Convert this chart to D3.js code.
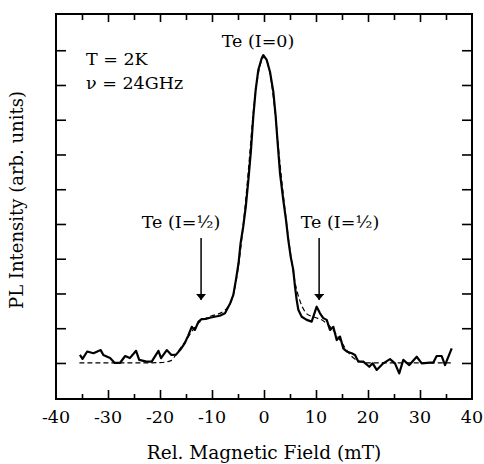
<!DOCTYPE html>
<html><head><meta charset="utf-8">
<script src="https://cdn.jsdelivr.net/npm/d3@7"></script>
<style>body{margin:0;background:#fff}svg{display:block}text{font-family:"DejaVu Serif",serif;fill:#000}</style>
</head><body><svg id="c" width="484" height="464"></svg>
<script>
// Measured PL (solid line)
const fieldMeas = [-35.4,-34.9,-34.0,-32.8,-31.4,-30.9,-29.6,-28.7,-27.7,-26.7,-25.8,-24.6,-24.0,-22.6,-21.6,-20.3,-19.8,-18.7,-17.8,-16.9,-16.0,-15.2,-14.6,-13.9,-13.3,-12.6,-12.0,-11.2,-10.4,-9.5,-8.5,-7.5,-6.5,-5.9,-5.4,-4.9,-4.5,-4.0,-3.5,-3.0,-2.5,-2.06,-1.6,-1.1,-0.44,-0.13,0.52,1.15,1.79,2.25,2.63,3.08,3.71,4.23,4.67,5.13,5.63,5.96,6.29,6.6,7.25,8.21,9.17,10.13,10.77,11.4,12.06,12.69,13.33,13.98,14.62,15.25,15.9,16.87,17.5,18.13,19.1,20.25,20.9,21.67,22.94,24.23,25.19,26.0,26.79,27.94,29.37,30.33,31.92,32.56,33.21,34.17,34.81,36.1];
const plMeas = [0.23,0.12,0.33,0.28,0.37,0.23,0.14,0.0,0.0,0.2,0.14,0.35,0.09,0.04,0.04,0.35,0.14,0.37,0.23,0.24,0.4,0.58,0.78,1.04,0.95,1.19,1.26,1.27,1.3,1.33,1.36,1.43,1.72,1.96,2.39,2.87,3.45,3.92,4.5,5.27,6.13,7.09,7.86,8.43,8.77,8.86,8.72,8.38,7.81,7.09,6.32,5.46,4.69,4.12,3.54,3.06,2.68,2.2,1.81,1.53,1.33,1.24,1.19,1.62,1.43,1.29,1.24,0.95,1.04,0.66,0.76,0.42,0.33,0.28,0.23,0.04,0.04,-0.11,-0.01,-0.2,-0.01,0.11,-0.01,-0.3,0.09,-0.06,0.18,-0.01,0.01,0.01,0.2,0.2,-0.06,0.42];
// Fit (dashed line)
const fieldFit = [-35.5,-25,-20,-18,-17,-16,-15,-14,-13,-12,-11,-10,-9,-8,-7,-6,-5,-4,-3,-2,-1,0,1,2,3,4,5,6,7,8,9,10,11,12,13,14,15,16,17,18,19,20,25,36];
const plFit = [0,0,0.01,0.06,0.22,0.44,0.65,0.88,1.08,1.22,1.3,1.36,1.4,1.47,1.6,1.9,2.7,3.95,5.55,7.3,8.4,8.8,8.45,7.4,5.85,4.45,3.25,2.3,1.75,1.45,1.35,1.3,1.25,1.14,1.0,0.8,0.57,0.35,0.17,0.07,0.02,0,0,0];
// Axis ticks
const xMajor = [-30,-20,-10,0,10,20,30];
const xMinor = [-35,-25,-15,-5,5,15,25,35];
const xLabels = [-40,-30,-20,-10,0,10,20,30,40];
const yTicks = [0,1,2,3,4,5,6,7,8,9];
// Annotations
const arrowFields = [-12.1, 10.6];
const arrowLabels = ["Te (I=½)", "Te (I=½)"];

const svg = d3.select("#c");
const L=56,R=472,T=14,B=399;
const x = d3.scaleLinear().domain([-40,40]).range([L,R]);
const y = d3.scaleLinear().domain([-1.037,10.043]).range([B,T]);

function styleAxis(g){g.select(".domain").remove();g.selectAll("line").attr("stroke","#000").attr("stroke-width",1.6);}
svg.append("g").attr("transform",`translate(0,${B})`).call(d3.axisBottom(x).tickValues(xMajor).tickSize(-9).tickFormat("")).call(styleAxis);
svg.append("g").attr("transform",`translate(0,${B})`).call(d3.axisBottom(x).tickValues(xMinor).tickSize(-5).tickFormat("")).call(styleAxis);
svg.append("g").attr("transform",`translate(0,${T})`).call(d3.axisTop(x).tickValues(xMajor).tickSize(-8).tickFormat("")).call(styleAxis);
svg.append("g").attr("transform",`translate(0,${T})`).call(d3.axisTop(x).tickValues(xMinor).tickSize(-6).tickFormat("")).call(styleAxis);
svg.append("g").attr("transform",`translate(${L},0)`).call(d3.axisLeft(y).tickValues(yTicks).tickSize(-10).tickFormat("")).call(styleAxis);
svg.append("g").attr("transform",`translate(${R},0)`).call(d3.axisRight(y).tickValues(yTicks).tickSize(-10).tickFormat("")).call(styleAxis);

svg.append("g").selectAll("text").data(xLabels).join("text")
  .attr("x",d=>x(d)).attr("y",423).attr("text-anchor","middle").attr("font-size",17.5).text(d=>d);

svg.append("rect").attr("x",L).attr("y",T).attr("width",R-L).attr("height",B-T)
  .attr("fill","none").attr("stroke","#000").attr("stroke-width",2);

const fitData = fieldFit.map((f,i)=>[f,plFit[i]]);
const measData = fieldMeas.map((f,i)=>[f,plMeas[i]]);
svg.append("path").datum(fitData).attr("fill","none").attr("stroke","#000").attr("stroke-width",1.2)
  .attr("stroke-dasharray","5,3")
  .attr("d",d3.line().x(d=>x(d[0])).y(d=>y(d[1])).curve(d3.curveMonotoneX));
svg.append("path").datum(measData).attr("fill","none").attr("stroke","#000").attr("stroke-width",2.2)
  .attr("stroke-linejoin","round")
  .attr("d",d3.line().x(d=>x(d[0])).y(d=>y(d[1])));

// arrows
svg.append("defs").append("marker").attr("id","ah").attr("viewBox","0 0 6 10").attr("refX",6).attr("refY",5)
  .attr("markerWidth",6).attr("markerHeight",10).attr("markerUnits","userSpaceOnUse").attr("orient","auto")
  .append("path").attr("d","M0,0L6,5L0,10Z").attr("fill","#000");
arrowFields.forEach((f,i)=>{
  svg.append("line").attr("x1",x(f)).attr("x2",x(f)).attr("y1",238).attr("y2",300)
    .attr("stroke","#000").attr("stroke-width",1.5).attr("marker-end","url(#ah)");
});
svg.append("text").attr("x",181).attr("y",228).attr("text-anchor","middle").attr("font-size",17.5).text(arrowLabels[0]);
svg.append("text").attr("x",340).attr("y",228).attr("text-anchor","middle").attr("font-size",17.5).text(arrowLabels[1]);
svg.append("text").attr("x",258).attr("y",47).attr("text-anchor","middle").attr("font-size",17.5).text("Te (I=0)");
svg.append("text").attr("x",86).attr("y",65).attr("font-size",17.5).text("T = 2K");
svg.append("text").attr("x",86).attr("y",89).attr("font-size",17.5).text("ν = 24GHz");
svg.append("text").attr("x",264).attr("y",459).attr("text-anchor","middle").attr("font-size",18.5).text("Rel. Magnetic Field (mT)");
svg.append("text").attr("transform","translate(23,200) rotate(-90)").attr("text-anchor","middle").attr("font-size",18).text("PL Intensity (arb. units)");
</script></body></html>
